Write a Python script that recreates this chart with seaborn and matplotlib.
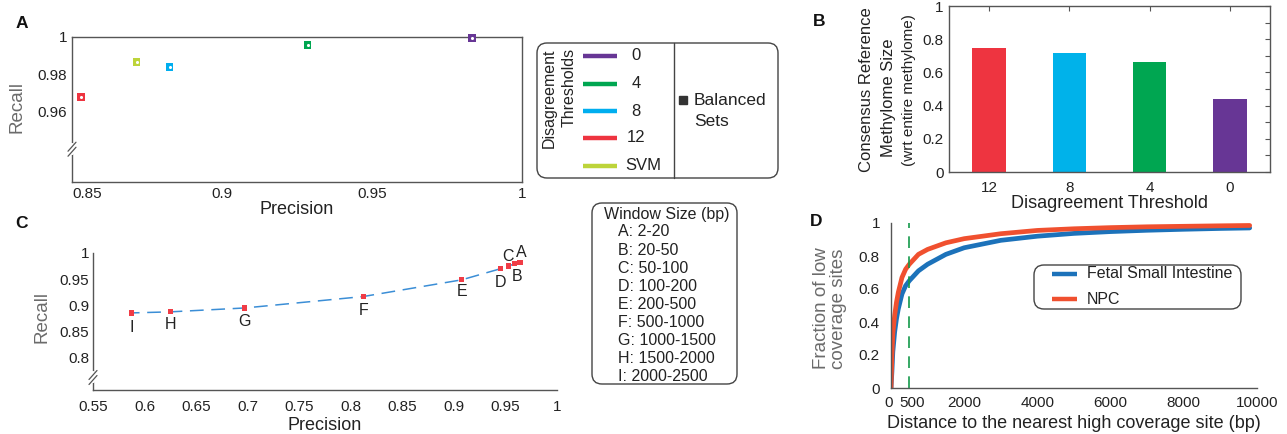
import numpy as np
import pandas as pd
import matplotlib
matplotlib.use("Agg")
import matplotlib.pyplot as plt
import matplotlib.transforms as mtransforms
from matplotlib.patches import FancyBboxPatch
from matplotlib.lines import Line2D
from matplotlib.ticker import FuncFormatter
import seaborn as sns

# ---- data ----
# A: precision / recall of the balanced sets
thr_labels = ['0', '4', '8', '12', 'SVM']
thr_colors = ['#673695', '#00A651', '#00AEEF', '#EE3440', '#BDD43A']
a_precision = [0.9832, 0.9285, 0.8825, 0.8530, 0.8715]
a_recall = [0.9993, 0.9956, 0.9839, 0.9678, 0.9867]

# B: consensus reference methylome size
b_thresholds = ['12', '8', '4', '0']
b_size = [0.747, 0.719, 0.663, 0.440]
b_colors = ['#EE3440', '#00B2EA', '#00A651', '#673695']

# C: window sizes
c_names = ['A', 'B', 'C', 'D', 'E', 'F', 'G', 'H', 'I']
c_windows = ['2-20', '20-50', '50-100', '100-200', '200-500', '500-1000',
             '1000-1500', '1500-2000', '2000-2500']
c_precision = [0.9641, 0.9589, 0.9533, 0.9450, 0.9076, 0.8120, 0.6973, 0.6248, 0.5874]
c_recall = [0.9810, 0.9795, 0.9750, 0.9697, 0.9485, 0.9164, 0.8945, 0.8870, 0.8850]

# D: cumulative fraction of low coverage sites
d_dist = [0, 25, 50, 100, 150, 200, 300, 400, 500, 750, 1000, 1500, 2000,
          3000, 4000, 5000, 6000, 7000, 8000, 9000, 9800]
d_fetal = [0.0, 0.10, 0.22, 0.34, 0.42, 0.48, 0.57, 0.62, 0.65, 0.71, 0.75, 0.81,
           0.85, 0.895, 0.92, 0.937, 0.948, 0.956, 0.962, 0.967, 0.970]
d_npc = [0.0, 0.20, 0.33, 0.44, 0.52, 0.58, 0.67, 0.72, 0.75, 0.81, 0.84, 0.88,
         0.905, 0.935, 0.955, 0.965, 0.972, 0.977, 0.980, 0.983, 0.985]
d_cutoff = 500

sns.set_style('white')
plt.rcParams['font.family'] = ['Liberation Sans', 'DejaVu Sans']

W, H = 1287, 434
fig = plt.figure(figsize=(W / 100, H / 100), dpi=100)
PX = mtransforms.Affine2D().scale(1, -1).translate(0, H)   # pixels from top-left
SPINE = '#555555'
TXT = '#222222'
GREY = '#6b6b6b'

BOX_A = (72, 37, 522, 182)
BOX_B = (949, 6, 1270, 172)
BOX_C = (93, 253, 557, 390)
BOX_D = (891, 223, 1257, 388)


def add_ax(box):
    l, t, r, b = box
    return fig.add_axes([l / W, 1 - b / H, (r - l) / W, (b - t) / H])


def style(ax, spines, numeric_x=True):
    for s in ['left', 'right', 'top', 'bottom']:
        ax.spines[s].set_visible(s in spines)
        ax.spines[s].set_color(SPINE)
        ax.spines[s].set_linewidth(1)
    ax.tick_params(which='both', direction='in', color=SPINE, labelsize=11,
                   labelcolor=TXT, length=3.5, width=0.8)
    fmt = FuncFormatter(lambda v, p: f'{v:g}')
    if numeric_x:
        ax.xaxis.set_major_formatter(fmt)
    ax.yaxis.set_major_formatter(fmt)


def xlabel_px(ax, box, text, y_px, **kw):
    l, t, r, b = box
    ax.set_xlabel(text, va='center', fontsize=13, color=TXT, **kw)
    ax.xaxis.set_label_coords(0.5, (b - y_px) / (b - t))


def ylabel_px(ax, box, text, x_px, y_px, **kw):
    l, t, r, b = box
    ax.set_ylabel(text, va='center', ha='center', **kw)
    ax.yaxis.set_label_coords((x_px - l) / (r - l), (b - y_px) / (b - t))


def axis_break(ax, yval):
    trans = mtransforms.blended_transform_factory(ax.transAxes, ax.transData)
    x0, y0 = trans.transform((0, yval))
    ident = mtransforms.IdentityTransform()
    fig.add_artist(Line2D([x0, x0], [y0 - 4, y0 + 4], transform=ident,
                          color='white', lw=3, zorder=5))
    for dy in (-2.5, 2.5):
        fig.add_artist(Line2D([x0 - 4, x0 + 4], [y0 + dy - 4.5, y0 + dy + 4.5],
                              transform=ident, color=SPINE, lw=0.9, zorder=6))


def ptext(x, y, s, **kw):
    kw.setdefault('color', TXT)
    fig.text(x, y, s, transform=PX, **kw)


def rbox(x0, y0, x1, y1):
    fig.add_artist(FancyBboxPatch((x0, y0), x1 - x0, y1 - y0,
                                  boxstyle='round,pad=0,rounding_size=10',
                                  transform=PX, fc='white', ec='#444444', lw=1))


# ---- A ----
axA = add_ax(BOX_A)
dfA = pd.DataFrame({'precision': a_precision, 'recall': a_recall, 'threshold': thr_labels})
sns.scatterplot(data=dfA, x='precision', y='recall', hue='threshold',
                palette=dict(zip(thr_labels, thr_colors)), marker='s', s=32,
                edgecolor='none', legend=False, ax=axA, zorder=3, clip_on=False)
axA.scatter(a_precision, a_recall, s=1.5, color='white', zorder=4, clip_on=False)
style(axA, ['left', 'right', 'top', 'bottom'])
axA.set_xlim(0.85, 1.0)
axA.set_ylim(0.9217, 1.0)
axA.set_xticks([0.85, 0.9, 0.95, 1.0])
axA.set_yticks([0.96, 0.98, 1.0])
axA.set_yticks([0.97, 0.99], minor=True)
axA.get_xticklabels()[0].set_ha('left')
xlabel_px(axA, BOX_A, 'Precision', 209)
ylabel_px(axA, BOX_A, 'Recall', 17, 107, fontsize=13.5, color=GREY)
axis_break(axA, 0.9394)

# legend A
rbox(537, 43, 778, 178)
fig.add_artist(Line2D([674, 674], [43, 178], transform=PX, color='#444444', lw=1))
ptext(549, 48, 'Disagreement', rotation=90, ha='center', va='top', fontsize=11.5)
ptext(569, 48, 'Thresholds', rotation=90, ha='center', va='top', fontsize=11.5)
for lab, col, yy in zip(thr_labels, thr_colors, [56, 84, 111, 138, 166]):
    fig.add_artist(Line2D([583, 617], [yy, yy], transform=PX, color=col, lw=3.2,
                          solid_capstyle='butt'))
    if lab == 'SVM':
        ptext(625, yy, lab, ha='left', va='center', fontsize=12)
    else:
        ptext(636, yy, lab, ha='center', va='center', fontsize=12)
fig.add_artist(Line2D([683], [100], transform=PX, marker='s', ms=5.5, color='#333333', lw=0))
ptext(694, 100.5, 'Balanced', ha='left', va='center', fontsize=12.5)
ptext(694, 121.5, 'Sets', ha='left', va='center', fontsize=12.5)

# ---- B ----
axB = add_ax(BOX_B)
sns.barplot(x=b_thresholds, y=b_size, hue=b_thresholds, palette=b_colors,
            order=b_thresholds, hue_order=b_thresholds, width=0.42, saturation=1,
            legend=False, linewidth=0, ax=axB)
style(axB, ['left', 'right', 'top', 'bottom'], numeric_x=False)
axB.set_xlim(-0.5, 3.5)
axB.set_ylim(0, 1)
axB.set_xticks(range(len(b_thresholds)), labels=b_thresholds)
axB.set_yticks([0, 0.2, 0.4, 0.6, 0.8, 1.0])
axB.set_yticks([0.1, 0.3, 0.5, 0.7, 0.9], minor=True)
axB.tick_params(which='both', right=True, top=True)
axB.tick_params(axis='x', which='minor', top=False, bottom=False)
axB.tick_params(axis='x', pad=6.5)
axB.tick_params(axis='y', pad=4)
xlabel_px(axB, BOX_B, 'Disagreement Threshold', 204)
axB.set_ylabel('')
ptext(866.5, 89.5, 'Consensus Reference', rotation=90, ha='center', va='center', fontsize=12)
ptext(888.5, 98, 'Methylome Size', rotation=90, ha='center', va='center', fontsize=12)
ptext(908.5, 90, '(wrt entire methylome)', rotation=90, ha='center', va='center', fontsize=11)

# ---- C ----
axC = add_ax(BOX_C)
sns.lineplot(x=c_precision, y=c_recall, sort=False, errorbar=None, color='#3B8ED6',
             lw=1.1, linestyle=(0, (9, 5)), ax=axC)
sns.scatterplot(x=c_precision, y=c_recall, marker='s', s=14, color='#F03C46',
                edgecolor='none', ax=axC, zorder=3, clip_on=False)
style(axC, ['left', 'bottom'])
label_offsets = {'A': (1, 10), 'B': (2, -12.5), 'C': (-1, 10), 'D': (0, -14),
                 'E': (0, -12), 'F': (0, -14), 'G': (0, -13.5), 'H': (0, -13), 'I': (0, -15)}
for n, xv, yv in zip(c_names, c_precision, c_recall):
    axC.annotate(n, (xv, yv), xytext=label_offsets[n], textcoords='offset pixels',
                 ha='center', va='center', fontsize=11.5, color=TXT)
axC.set_xlim(0.55, 1.0)
axC.set_ylim(0.737, 1.0)
axC.set_xticks([0.55, 0.6, 0.65, 0.7, 0.75, 0.8, 0.85, 0.9, 0.95, 1.0])
axC.set_yticks([0.8, 0.85, 0.9, 0.95, 1.0])
axC.tick_params(axis='x', pad=7)
axC.tick_params(axis='y', pad=2.7)
xlabel_px(axC, BOX_C, 'Precision', 426)
ylabel_px(axC, BOX_C, 'Recall', 42, 317, fontsize=13.5, color=GREY)
axis_break(axC, 0.761)

# legend C
rbox(592, 203, 737, 384)
ptext(667, 215, 'Window Size (bp)', ha='center', va='center', fontsize=11.5)
for i, (n, w) in enumerate(zip(c_names, c_windows)):
    ptext(618, 232 + 18.1 * i, f'{n}: {w}', ha='left', va='center', fontsize=11.5)

# ---- D ----
axD = add_ax(BOX_D)
sns.lineplot(x=d_dist, y=d_fetal, color='#1C72BA', lw=3.4, errorbar=None, ax=axD)
sns.lineplot(x=d_dist, y=d_npc, color='#F0502F', lw=3.4, errorbar=None, ax=axD)
axD.axvline(d_cutoff, color='#13994A', lw=1.2, linestyle=(0, (7, 5)))
style(axD, ['left', 'bottom'])
axD.set_xlim(0, 10000)
axD.set_ylim(0, 1)
axD.set_xticks([0, 500, 2000, 4000, 6000, 8000, 10000])
axD.set_xticks([1000, 3000, 5000, 7000, 9000], minor=True)
axD.set_yticks([0, 0.2, 0.4, 0.6, 0.8, 1.0])
axD.set_yticks([0.1, 0.3, 0.5, 0.7, 0.9], minor=True)
axD.tick_params(axis='x', pad=6)
axD.tick_params(axis='y', pad=8)
# nudge the crowded "0" and "500" labels apart
for lab, dx in zip(axD.get_xticklabels()[:2], (-2, 3)):
    lab.set_transform(lab.get_transform() +
                      mtransforms.ScaledTranslation(dx / 100, 0, fig.dpi_scale_trans))
xlabel_px(axD, BOX_D, 'Distance to the nearest high coverage site (bp)', 423)
ylabel_px(axD, BOX_D, 'Fraction of low\ncoverage sites', 830, 308.5, fontsize=13.5,
          color=GREY, linespacing=1.0)

# legend D
rbox(1034, 265, 1241, 309)
for lab, col, yy in zip(['Fetal Small Intestine', 'NPC'], ['#1C72BA', '#F0502F'], [274, 299]):
    fig.add_artist(Line2D([1052, 1077], [yy, yy], transform=PX, color=col, lw=3.2,
                          solid_capstyle='butt'))
    ptext(1087, yy, lab, ha='left', va='center', fontsize=11.5)

# panel letters
for letter, (xx, yy) in zip('ABCD', [(22, 23), (819, 21), (21, 224), (816, 222)]):
    ptext(xx, yy, letter, ha='center', va='center', fontsize=12.5, fontweight='bold',
          color='#111111')

fig.savefig('out.png', dpi=100)
